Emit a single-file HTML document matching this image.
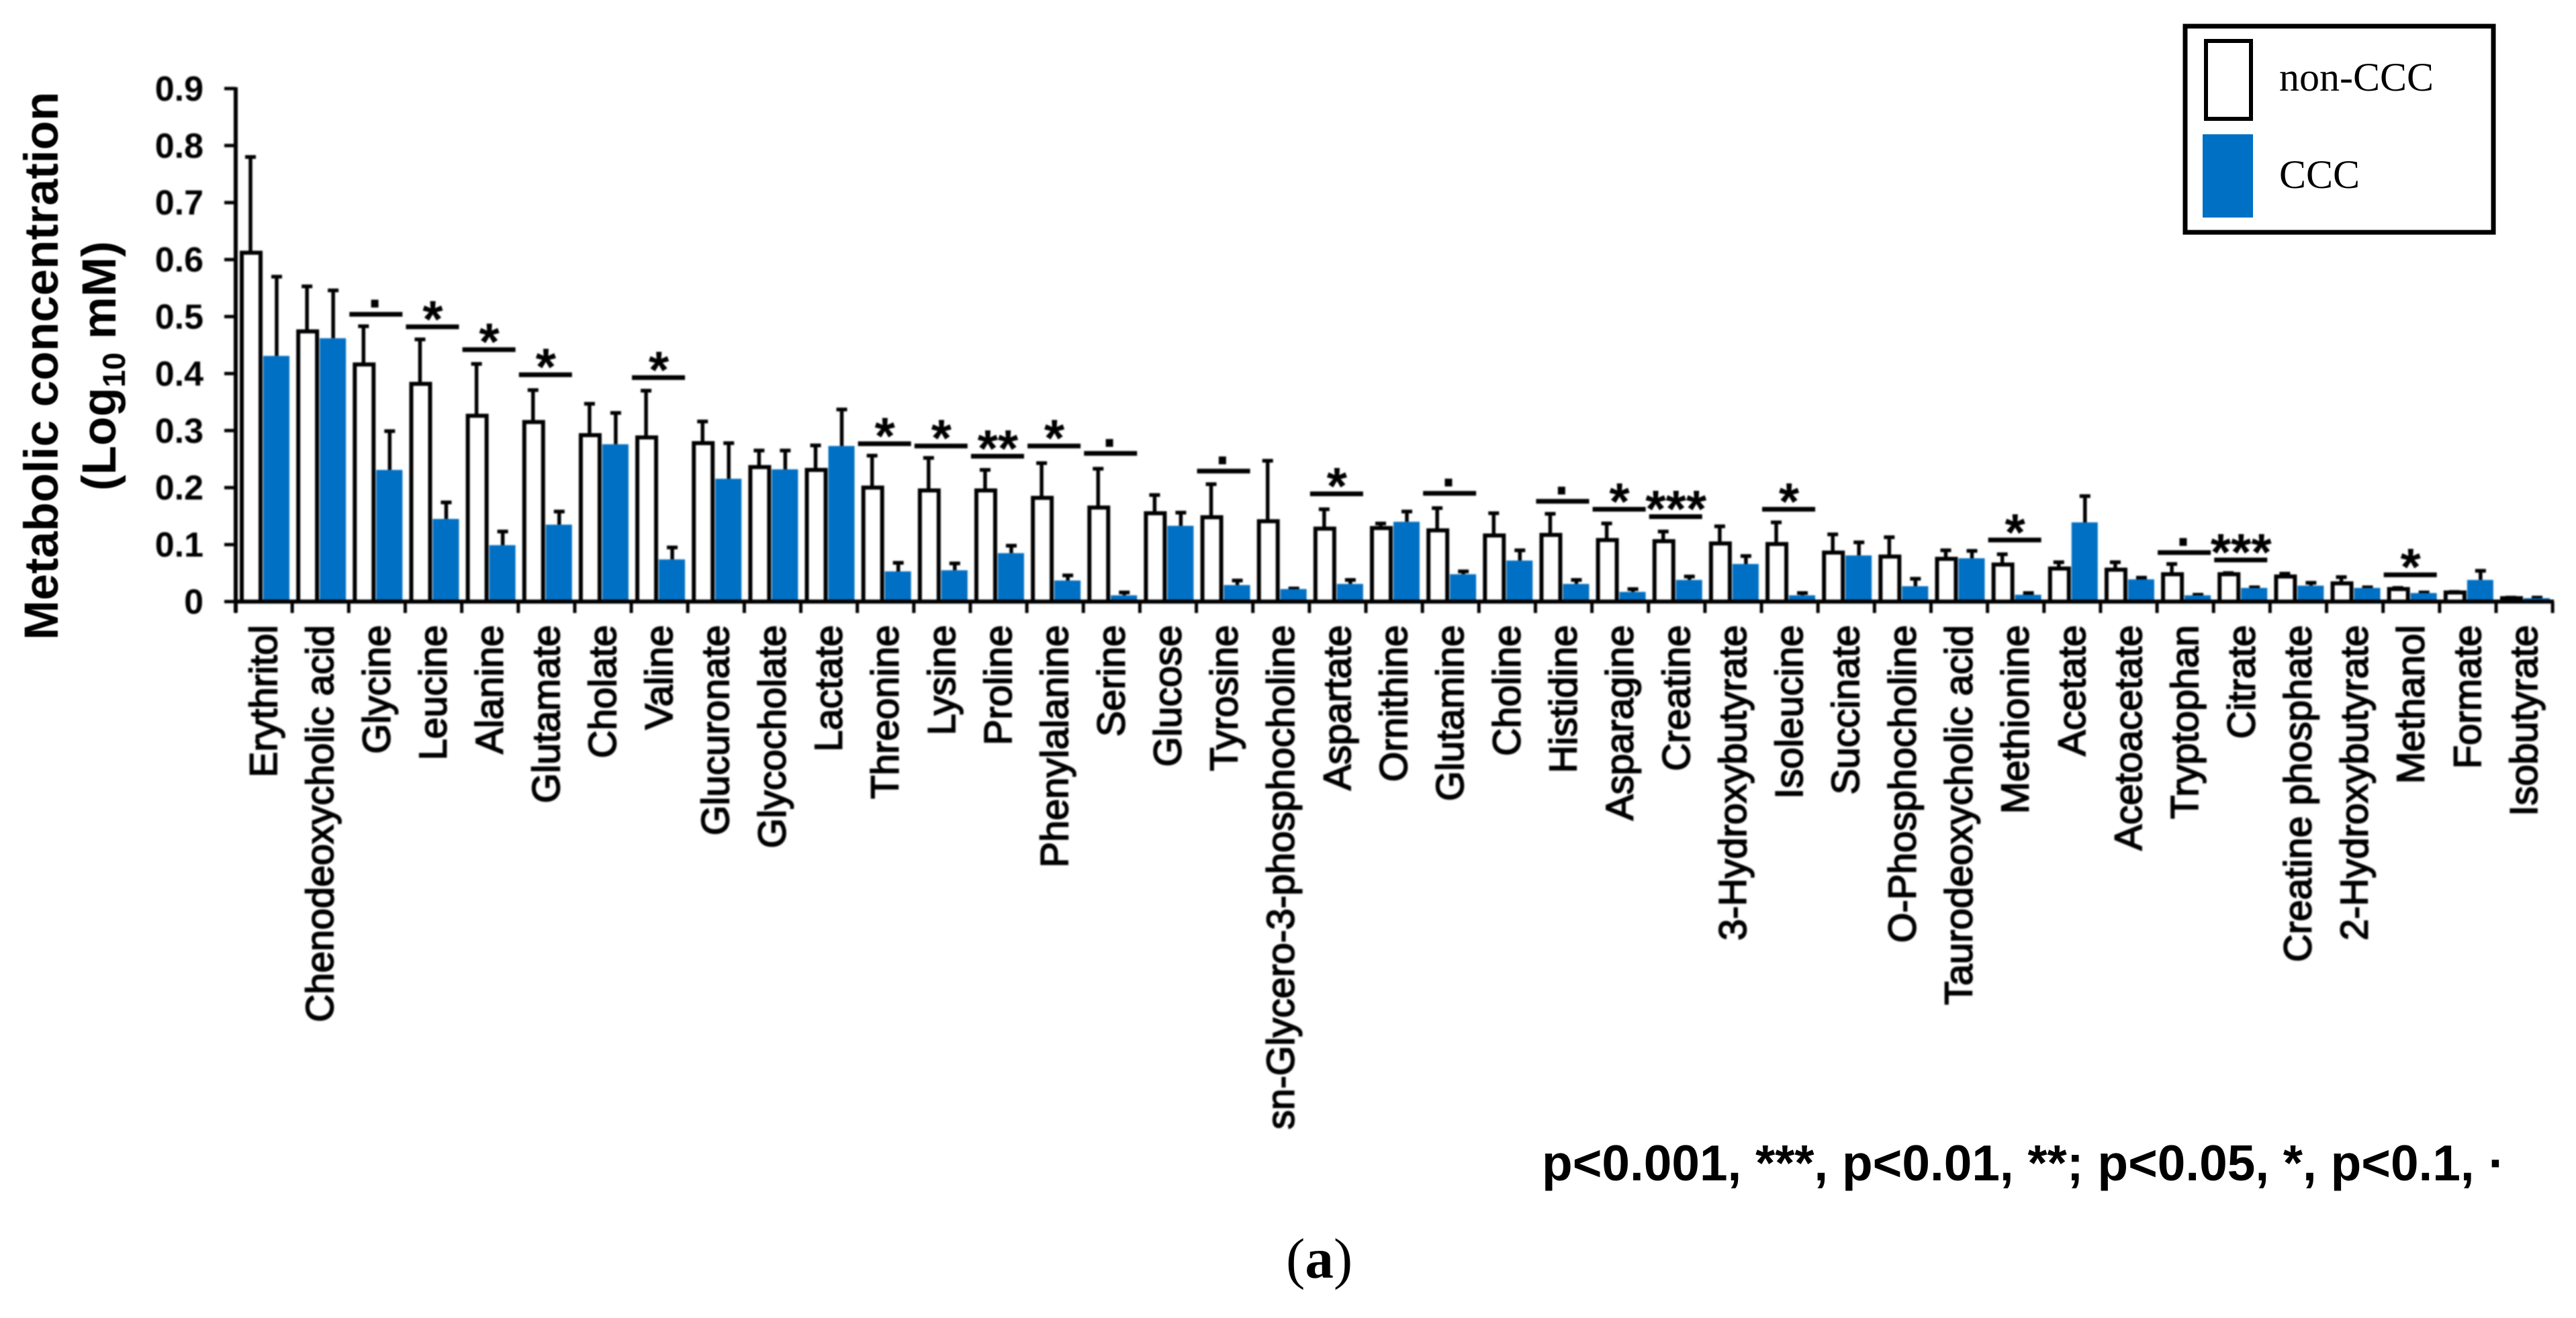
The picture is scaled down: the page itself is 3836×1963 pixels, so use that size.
<!DOCTYPE html>
<html lang="en">
<head>
<meta charset="utf-8">
<title>Metabolic concentration chart</title>
<style>
html,body{margin:0;padding:0;background:#fff;}
svg{display:block;}
text{font-family:"Liberation Sans",sans-serif;fill:#000;}
.serif{font-family:"Liberation Serif",serif;}
</style>
</head>
<body>
<svg id="chart" xmlns="http://www.w3.org/2000/svg" width="3836" height="1963" viewBox="0 0 3836 1963">
  <rect x="0" y="0" width="3836" height="1963" fill="#fff"/>
  <g id="plot" style="filter:blur(1.1px)"></g>
  <g style="filter:blur(0.8px)">
    <text transform="translate(86,545) rotate(-90)" text-anchor="middle" font-size="71" font-weight="700">Metabolic concentration</text>
    <text transform="translate(172,545) rotate(-90)" text-anchor="middle" font-size="71" font-weight="700">(Log<tspan font-size="47" dy="14">10</tspan><tspan dy="-14"> mM)</tspan></text>
  </g>
  <g>
    <rect x="3254" y="39" width="459" height="307" fill="#fff" stroke="#000" stroke-width="7"/>
    <rect x="3285" y="61" width="67" height="116" fill="#fff" stroke="#000" stroke-width="6"/>
    <text class="serif" x="3394" y="135" font-size="60">non-CCC</text>
    <rect x="3280" y="200" width="75" height="124" fill="#0070c4"/>
    <text class="serif" x="3394" y="280" font-size="60">CCC</text>
  </g>
  <text x="2296" y="1758" font-size="74.8" font-weight="700">p&lt;0.001, ***, p&lt;0.01, **; p&lt;0.05, *, p&lt;0.1, ·</text>
  <text class="serif" x="1915" y="1903" font-size="85">(<tspan font-weight="700">a</tspan>)</text>
</svg>
<script>
const categories = ["Erythritol","Chenodeoxycholic acid","Glycine","Leucine","Alanine","Glutamate","Cholate","Valine","Glucuronate","Glycocholate","Lactate","Threonine","Lysine","Proline","Phenylalanine","Serine","Glucose","Tyrosine","sn-Glycero-3-phosphocholine","Aspartate","Ornithine","Glutamine","Choline","Histidine","Asparagine","Creatine","3-Hydroxybutyrate","Isoleucine","Succinate","O-Phosphocholine","Taurodeoxycholic acid","Methionine","Acetate","Acetoacetate","Tryptophan","Citrate","Creatine phosphate","2-Hydroxybutyrate","Methanol","Formate","Isobutyrate"];
const nonCccValues = [.612,.474,.416,.382,.326,.315,.292,.288,.278,.236,.231,.2,.195,.195,.182,.165,.155,.148,.141,.128,.129,.125,.116,.117,.108,.106,.102,.101,.086,.079,.075,.065,.058,.056,.048,.048,.044,.032,.022,.016,.006];
const nonCccErrorTops = [.78,.553,.483,.46,.417,.371,.347,.37,.316,.265,.274,.256,.252,.231,.243,.233,.187,.206,.247,.162,.137,.164,.155,.154,.137,.123,.132,.139,.118,.113,.09,.083,.069,.069,.066,.05,.049,.043,.024,.017,.007];
const cccValues = [.431,.462,.231,.145,.099,.135,.276,.074,.2155,.232,.273,.053,.055,.085,.037,.011,.133,.029,.022,.031,.14,.048,.072,.031,.017,.038,.066,.011,.081,.027,.076,.012,.139,.039,.011,.024,.028,.024,.015,.038,.006];
const cccErrorTops = [.57,.546,.299,.174,.123,.158,.331,.095,.278,.265,.337,.068,.067,.098,.046,.016,.156,.037,.023,.038,.158,.053,.09,.038,.022,.044,.08,.015,.104,.04,.089,.015,.185,.042,.012,.025,.033,.025,.016,.054,.007];
const significanceMarks = ["","","·","*","*","*","","*","","","","*","*","**","*","·","","·","","*","","·","","·","*","***","","*","","","","*","","","·","***","","","*","",""];
const significanceLevels = [0,0,.504,.482,.442,.398,0,.393,0,0,0,.277,.273,.255,.273,.26,0,.229,0,.189,0,.19,0,.176,.162,.149,0,.162,0,0,0,.108,0,0,.086,.073,0,0,.047,0,0];
const yTickValues = [0,.1,.2,.3,.4,.5,.6,.7,.8,.9];
const yTickLabels = ["0","0.1","0.2","0.3","0.4","0.5","0.6","0.7","0.8","0.9"];

const NS = "http://www.w3.org/2000/svg";
const plot = document.getElementById("plot");
const xLeft = 351, bandWidth = 84.15, yZero = 896, pxPerUnit = 849;
const BLUE = "#0070c4";
function xBand(i){ return xLeft + i * bandWidth; }
function yScale(v){ return yZero - v * pxPerUnit; }
function make(tag, attrs, parent){
  const el = document.createElementNS(NS, tag);
  for (const k in attrs) el.setAttribute(k, attrs[k]);
  (parent || plot).appendChild(el);
  return el;
}
function errorBar(cx, v, top, group){
  const stem = make("line", {x1:cx, x2:cx, y1:yScale(v), y2:yScale(top), stroke:"#000", "stroke-width":5.5}, group);
  
  
  const cap = make("line", {x1:cx-8, x2:cx+8, y1:yScale(top), y2:yScale(top), stroke:"#000", "stroke-width":5.5}, group);
  
  
}

categories.forEach(function(name, i){
  const x0 = xBand(i);
  const g = make("g", {});
  
  

  errorBar(x0 + 22, nonCccValues[i], nonCccErrorTops[i], g);
  errorBar(x0 + 61, cccValues[i], cccErrorTops[i], g);

  const whiteBar = make("rect", {x:x0+9, y:yScale(nonCccValues[i]), width:28, height:nonCccValues[i]*pxPerUnit, fill:"#fff", stroke:"#000", "stroke-width":6}, g);
  
  

  const blueBar = make("rect", {x:x0+41, y:yScale(cccValues[i]), width:39, height:cccValues[i]*pxPerUnit, fill:BLUE}, g);
  
  

  const mark = significanceMarks[i];
  if (mark){
    const ly = yScale(significanceLevels[i]);
    const sigLine = make("line", {x1:x0+1, x2:x0+80, y1:ly, y2:ly, stroke:"#000", "stroke-width":7}, g);
    
    
    const isDot = mark === "·";
    const sigText = make("text", {x:x0+41, y: isDot ? ly+10 : ly+15, "text-anchor":"middle", "font-size":78, "font-weight":700}, g);
    
    
    sigText.textContent = mark;
  }

  const label = make("text", {transform:"translate("+(x0+61)+",931) rotate(-90)", "text-anchor":"end", "font-size":57.5, stroke:"#000", "stroke-width":1.8}, g);
  
  
  label.textContent = name;
});

const yAxis = make("line", {x1:xLeft, x2:xLeft, y1:yScale(.9)-2, y2:yZero+16, stroke:"#000", "stroke-width":6});



const xAxis = make("line", {x1:xLeft, x2:xBand(categories.length)+2, y1:yZero, y2:yZero, stroke:"#000", "stroke-width":6});



yTickValues.forEach(function(v, i){
  const tick = make("line", {x1:xLeft-17, x2:xLeft, y1:yScale(v), y2:yScale(v), stroke:"#000", "stroke-width":5});
  
  
  const lab = make("text", {x:303, y:yScale(v)+18, "text-anchor":"end", "font-size":52, "font-weight":700});
  
  
  lab.textContent = yTickLabels[i];
});

for (let i = 0; i <= categories.length; i++){
  const t = make("line", {x1:xBand(i), x2:xBand(i), y1:yZero, y2:yZero+17, stroke:"#000", "stroke-width":5});
  
  
}
</script>
</body>
</html>
